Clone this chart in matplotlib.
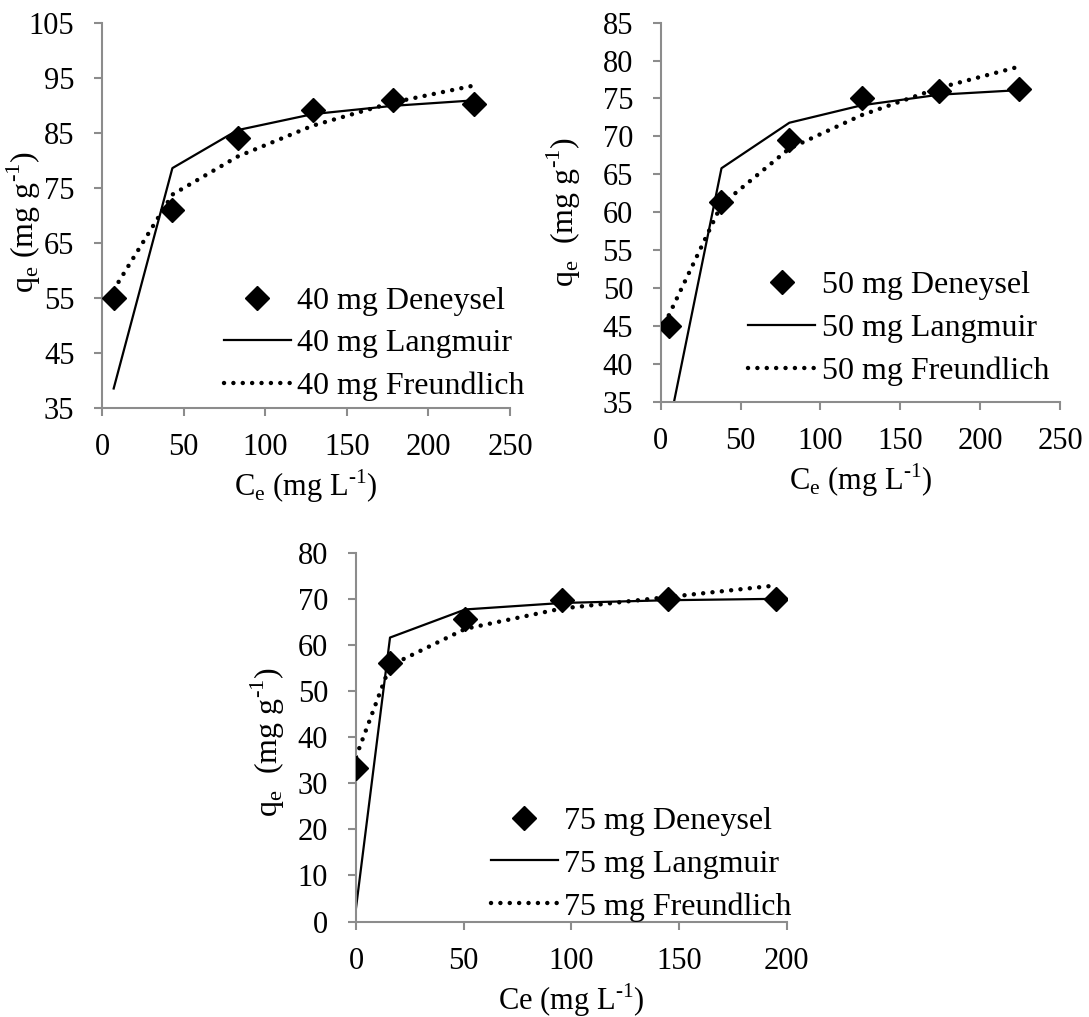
import matplotlib
matplotlib.use('Agg')
import matplotlib.pyplot as plt

plt.rcParams.update({
    'font.family': 'Liberation Serif',
    'mathtext.fontset': 'custom',
    'mathtext.rm': 'Liberation Serif',
    'font.size': 22,
})

# 40 mg dose
ce40 = [7, 43, 83, 129, 178, 228]
q40_exp = [55, 71, 84, 89.2, 91, 90.3]
q40_lang = [38.6, 78.6, 85.5, 88.4, 89.9, 90.9]
q40_freu = [56.5, 73.8, 80.7, 86.3, 90.5, 93.6]

# 50 mg dose
ce50 = [5, 38, 80.5, 125.7, 174.3, 224.3]
q50_exp = [45, 61.4, 69.5, 75, 76, 76.2]
q50_lang = [31.6, 65.8, 71.8, 74.1, 75.5, 76.1]
q50_freu = [46.4, 61, 68.4, 72.8, 76.4, 79.2]

# 75 mg dose
ce75 = [0, 15.8, 50.8, 95.5, 145, 195]
q75_exp = [33.2, 56, 65.6, 69.8, 70, 70]
q75_lang = [2.9, 61.6, 67.7, 69.1, 69.7, 70]
q75_freu = [35.7, 55.5, 63.5, 67.9, 70.4, 72.9]

AX_GRAY = '#8c8c8c'

fig = plt.figure(figsize=(10.89, 10.17), dpi=100)
fig.patch.set_facecolor('white')


def panel(rect, ce, q_exp, q_lang, q_freu, dose, xlim, xticks, ylim, yticks,
          xlabel, ylabel, ylabel_xy, leg_anchor):
    ax = fig.add_axes(rect)
    ax.plot(ce, q_exp, linestyle='none', marker='D', markersize=12,
            color='black', label=f'{dose} mg Deneysel', zorder=3)
    ax.plot(ce, q_lang, '-', color='black', linewidth=1.6,
            label=f'{dose} mg Langmuir')
    ax.plot(ce, q_freu, color='black', linewidth=3.2,
            linestyle=(0, (0.01, 2.1)), dash_capstyle='round',
            label=f'{dose} mg Freundlich')
    ax.set_xlim(*xlim)
    ax.set_ylim(*ylim)
    ax.set_xticks(xticks)
    ax.set_yticks(yticks)
    for side in ('top', 'right'):
        ax.spines[side].set_visible(False)
    for side in ('left', 'bottom'):
        ax.spines[side].set_color(AX_GRAY)
        ax.spines[side].set_linewidth(1.5)
    ax.tick_params(axis='both', direction='out', length=6, width=1.5,
                   color=AX_GRAY, labelsize=22)
    ax.tick_params(axis='x', pad=12)
    ax.tick_params(axis='y', pad=14)
    ax.set_xlabel(xlabel, fontsize=22, labelpad=4)
    ax.set_ylabel(ylabel, fontsize=23)
    ax.yaxis.set_label_coords(*ylabel_xy)
    ax.legend(loc='lower left', bbox_to_anchor=leg_anchor, frameon=False,
              fontsize=23, handlelength=2.1, handletextpad=0.2,
              labelspacing=0.42, borderpad=0, borderaxespad=0)
    return ax


XLAB = r'C$_\mathregular{e}$ (mg L$^{\text{-1}}$)'

panel([0.0939, 0.5985, 0.3744, 0.3792], ce40, q40_exp, q40_lang, q40_freu, 40,
      (0, 250), range(0, 251, 50), (35, 105), range(35, 106, 10),
      XLAB, r'q$_\mathregular{e}$ (mg g$^{\text{-1}}$)',
      (-0.145, 0.484), (0.298, 0.018))

panel([0.6068, 0.605, 0.3666, 0.3727], ce50, q50_exp, q50_lang, q50_freu, 50,
      (0, 250), range(0, 251, 50), (35, 85), range(35, 86, 5),
      XLAB, r'q$_\mathregular{e}$  (mg g$^{\text{-1}}$)',
      (-0.195, 0.50), (0.219, 0.041))

panel([0.3269, 0.0939, 0.3955, 0.3626], ce75, q75_exp, q75_lang, q75_freu, 75,
      (0, 200), range(0, 201, 50), (0, 80), range(0, 81, 10),
      r'Ce (mg L$^{\text{-1}}$)', r'q$_\mathregular{e}$  (mg g$^{\text{-1}}$)',
      (-0.16, 0.487), (0.313, 0.0))

fig.savefig('out.png', dpi=100)
